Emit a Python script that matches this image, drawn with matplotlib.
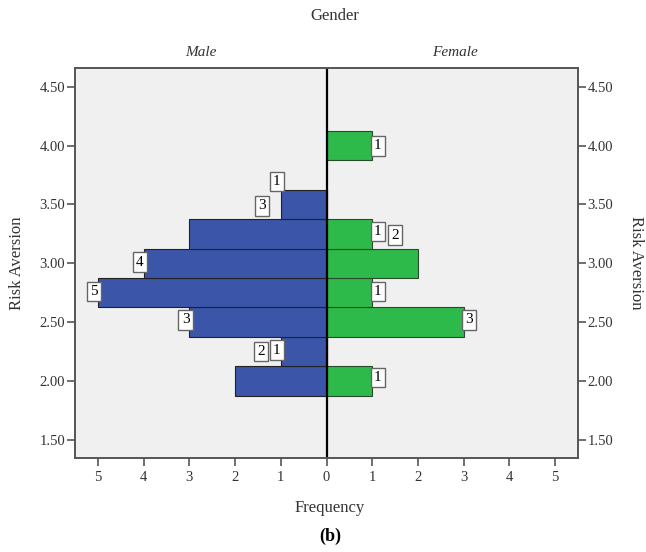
import matplotlib
matplotlib.use("Agg")
import matplotlib.pyplot as plt

# data
bins = [2.0, 2.25, 2.5, 2.75, 3.0, 3.25, 3.5, 4.0]
male = [2, 1, 3, 5, 4, 3, 1, 0]
female = [1, 0, 3, 1, 2, 1, 0, 1]
ticks_y = [1.5, 2.0, 2.5, 3.0, 3.5, 4.0, 4.5]
ticks_x = [-5, -4, -3, -2, -1, 0, 1, 2, 3, 4, 5]

# label nudges (SPSS moves overlapping labels)
male_dx = [0.65, 0, 0, 0, 0, 1.67, 0, 0]
male_dy = [0.25, 0.01, 0.02, 0.01, 0.01, 0.24, 0.195, 0]
female_dx = [0, 0, 0, 0, -0.63, 0, 0, 0]
female_dy = [0.03, 0, 0.02, 0.01, 0.24, 0.02, 0, 0]

plt.rcParams['font.family'] = ['Liberation Serif', 'DejaVu Serif']

blue = "#3B55A8"
green = "#2EBA4A"

fig = plt.figure(figsize=(6.46, 5.52), dpi=100)
ax = fig.add_axes([75/646, 94/552, 503/646, 390/552])
ax.set_facecolor("#F0F0F0")

ax.barh(bins, [-m for m in male], height=0.25, color=blue, edgecolor="#222222", linewidth=0.8)
ax.barh(bins, female, height=0.25, color=green, edgecolor="#2a4a2a", linewidth=0.8)
ax.axvline(0, color="black", lw=1.6)

box = dict(boxstyle="square,pad=0.22", fc="white", ec="#666666", lw=1)
for b, m, dx, dy in zip(bins, male, male_dx, male_dy):
    if m > 0:
        ax.text(-m + dx, b + dy, str(m), ha="right", va="center", fontsize=11, bbox=box)
for b, f, dx, dy in zip(bins, female, female_dx, female_dy):
    if f > 0:
        ax.text(f + dx + 0.04, b + dy, str(f), ha="left", va="center", fontsize=11, bbox=box)

ax.set_xlim(-5.5, 5.5)
ax.set_ylim(1.345, 4.66)
ax.set_xticks(ticks_x)
ax.set_xticklabels([str(abs(t)) for t in ticks_x])
ax.set_yticks(ticks_y)
ax.set_yticklabels(["%.2f" % t for t in ticks_y])
ax.tick_params(axis="both", direction="out", length=6, width=1.2, color="#555555",
               labelsize=10.5, labelcolor="#333333")
ax.tick_params(axis="y", right=True, labelright=True, pad=1)
for s in ax.spines.values():
    s.set_color("#555555")
    s.set_linewidth(1.4)

ax.text(0.25, 1.04, "Male", transform=ax.transAxes, ha="center", va="center",
        fontsize=11, style="italic", color="#333333")
ax.text(0.755, 1.04, "Female", transform=ax.transAxes, ha="center", va="center",
        fontsize=11, style="italic", color="#333333")

fig.text(335/646, 1 - 16/552, "Gender", ha="center", va="center", fontsize=12, color="#333333")
fig.text(330/646, 1 - 508/552, "Frequency", ha="center", va="center", fontsize=12, color="#333333")
fig.text(330/646, 1 - 536/552, "(b)", ha="center", va="center", fontsize=13, weight="bold")
fig.text(17/646, 1 - 263/552, "Risk Aversion", rotation=90, ha="center", va="center",
         fontsize=12, color="#333333")
fig.text(636/646, 1 - 263/552, "Risk Aversion", rotation=270, ha="center", va="center",
         fontsize=12, color="#333333")

fig.savefig("out.png", dpi=100)
